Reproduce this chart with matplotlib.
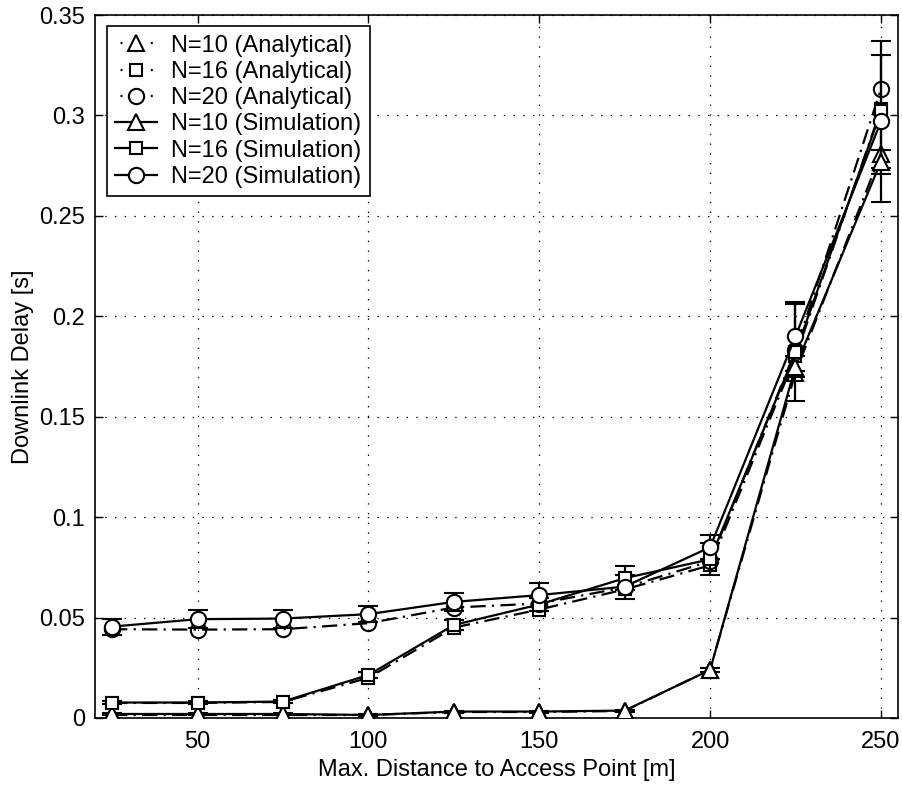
import matplotlib
matplotlib.use("Agg")
import matplotlib.pyplot as plt
from matplotlib.lines import Line2D

plt.rcParams['font.family'] = ['Liberation Sans', 'DejaVu Sans']
plt.rcParams['lines.scale_dashes'] = False

# ---- data ----
distance = [25, 50, 75, 100, 125, 150, 175, 200, 225, 250]

ana_n10 = [0.0015, 0.0015, 0.0015, 0.0015, 0.0030, 0.0030, 0.0035, 0.0240, 0.172, 0.281]
ana_n16 = [0.0075, 0.0075, 0.0080, 0.0200, 0.0450, 0.0540, 0.0640, 0.0760, 0.180, 0.303]
ana_n20 = [0.0442, 0.0440, 0.0442, 0.0472, 0.0550, 0.0570, 0.0650, 0.0780, 0.183, 0.313]

sim_n10 = [0.0020, 0.0020, 0.0020, 0.0015, 0.0032, 0.0032, 0.0037, 0.0239, 0.175, 0.277]
err_n10 = [0.0005, 0.0005, 0.0005, 0.0005, 0.0005, 0.0005, 0.0005, 0.0010, 0.005, 0.006]
sim_n16 = [0.0077, 0.0077, 0.0082, 0.0214, 0.0463, 0.0565, 0.0696, 0.0790, 0.182, 0.302]
err_n16 = [0.0008, 0.0008, 0.0008, 0.0015, 0.0025, 0.0030, 0.0060, 0.0080, 0.024, 0.028]
sim_n20 = [0.0455, 0.0492, 0.0495, 0.0517, 0.0578, 0.0612, 0.0654, 0.0850, 0.190, 0.297]
err_n20 = [0.0040, 0.0045, 0.0045, 0.0040, 0.0045, 0.0060, 0.0060, 0.0060, 0.017, 0.040]

ana_labels = ['N=10 (Analytical)', 'N=16 (Analytical)', 'N=20 (Analytical)']
sim_labels = ['N=10 (Simulation)', 'N=16 (Simulation)', 'N=20 (Simulation)']
markers = ['^', 's', 'o']

xticks = [50, 100, 150, 200, 250]
yticks = [0, 0.05, 0.1, 0.15, 0.2, 0.25, 0.3, 0.35]
yticklabels = ['0', '0.05', '0.1', '0.15', '0.2', '0.25', '0.3', '0.35']

# ---- plot ----
fig = plt.figure(figsize=(9.02, 7.85), dpi=100)
ax = fig.add_axes([95/902, 1-718/785, (898-95)/902, (718-15)/785])

msize = {'^': 11, 's': 9, 'o': 11}
lw = 1.6
dashdot = (0, (11, 4.5, 1.6, 4.5))
FS = 17

for y, lab, m in zip([ana_n10, ana_n16, ana_n20], ana_labels, markers):
    ax.plot(distance, y, color='black', lw=lw, linestyle=dashdot,
            marker=m, ms=msize[m], mfc='none', mec='black', mew=1.5, zorder=3)

for y, e, lab, m in zip([sim_n10, sim_n16, sim_n20], [err_n10, err_n16, err_n20],
                        sim_labels, markers):
    ax.errorbar(distance, y, yerr=e, color='black', lw=lw, linestyle='-',
                marker=m, ms=msize[m], mfc='white', mec='black', mew=1.5,
                ecolor='black', elinewidth=1.6, capsize=7, capthick=1.6, zorder=4)

# legend proxies
handles = []
for lab, m in zip(ana_labels, markers):
    handles.append(Line2D([], [], color='black', lw=lw, linestyle=(17.8, (1.4, 20.4)),
                          marker=m, ms=msize[m], mfc='white', mec='black', mew=1.5,
                          label=lab))
for lab, m in zip(sim_labels, markers):
    handles.append(Line2D([], [], color='black', lw=lw, linestyle='-',
                          marker=m, ms=msize[m], mfc='white', mec='black', mew=1.5,
                          label=lab))

ax.set_xlim(20, 255)
ax.set_ylim(0, 0.35)
ax.set_xticks(xticks)
ax.set_xticklabels([str(t) for t in xticks])
ax.set_yticks(yticks)
ax.set_yticklabels(yticklabels)
ax.tick_params(direction='in', length=6, width=1, top=True, right=True,
               labelsize=FS, colors='black')
ax.tick_params(axis='x', pad=9)
ax.tick_params(axis='y', pad=7)
ax.grid(True, color='black', linestyle=(0, (1, 6)), lw=0.9)
for s in ax.spines.values():
    s.set_linewidth(1.2)

ax.set_xlabel('Max. Distance to Access Point [m]', fontsize=FS, labelpad=5)
ax.set_ylabel('Downlink Delay [s]', fontsize=FS, labelpad=4)

leg = ax.legend(handles=handles, loc='upper left', bbox_to_anchor=(0.0149, 0.984),
                fontsize=FS, frameon=True, fancybox=False, framealpha=1,
                edgecolor='black', handlelength=1.75, handletextpad=0.6,
                labelspacing=0.18, borderpad=0.36, borderaxespad=0)
leg.get_frame().set_linewidth(1.2)

fig.savefig('out.png', dpi=100)
